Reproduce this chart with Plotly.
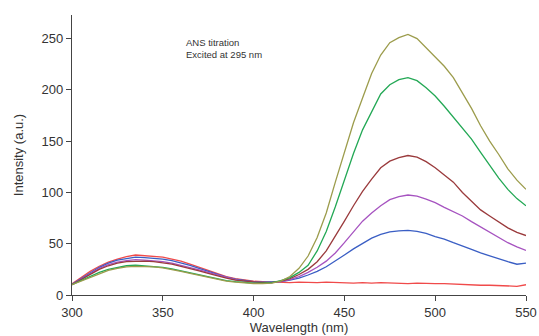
import plotly.graph_objects as go

wavelength = list(range(300, 551, 5))

red = [11, 17, 23, 28, 32, 35, 37.5, 39, 38.5, 38, 37, 35, 33, 30, 27, 23.5, 20.5, 18, 16, 14.5,
       13.5, 13, 12.5, 12, 12, 12.5, 12, 12, 12.5, 12, 12, 11.5, 12, 11.5, 12, 11.5, 11.5, 11, 11.5,
       11, 11, 11, 10.5, 10, 10, 9.5, 9.5, 9, 8.5, 8.5, 10]
blue = [10.5, 16, 22, 27, 31, 34, 35.5, 37, 36.5, 36, 35, 33.5, 31.5, 29, 26, 23, 20, 17.5, 15.5, 14,
        13, 12.5, 12.5, 13, 14.5, 16.5, 19.5, 23, 27.5, 33, 39, 45, 50.5, 55.5, 59, 61.5, 62.5, 63, 62,
        60, 57, 54.5, 51, 48, 44.5, 41, 38, 35, 32.5, 30, 31]
purple = [10, 15.5, 21, 26, 29.5, 32, 33.5, 34.5, 34, 33.5, 32.5, 31, 29, 27, 24.5, 22, 19.5, 17, 15, 13.5,
          12.5, 12, 12, 13, 15, 18, 22, 27, 33, 41, 51, 62, 72, 80, 87, 93, 96, 97.5, 96.5,
          93.5, 90, 85.5, 81.5, 77, 71.5, 66.5, 61, 56, 51, 47, 43.5]
brown = [10, 15, 20.5, 25, 28.5, 31, 32.5, 33, 33, 32.5, 31.5, 30, 28, 26, 23.5, 21, 18.5, 16.5, 14.5, 13.5,
         12.5, 12, 12, 13.5, 16, 20, 25, 32.5, 43, 57, 72, 87, 101, 113, 124, 130.5, 134, 136, 134.5,
         130, 124, 117, 110, 100, 91, 83, 77, 71, 65.5, 61, 58]
green = [10, 14, 18.5, 22, 25, 27, 28.5, 29, 28.5, 28, 27, 25.5, 23.5, 21.5, 19.5, 17.5, 15.5, 14, 13, 12,
         11.5, 11.5, 12, 14, 17, 22, 29, 43, 62, 86, 112, 138, 161, 179, 196, 205, 210, 212, 209,
         202, 194, 184, 173, 162, 152, 139, 126, 114, 103, 94, 87]
olive = [10, 13.5, 17.5, 21, 24, 26, 27.5, 28, 28, 27.5, 26.5, 25, 23, 21, 19, 17, 15, 13.5, 12.5, 11.5,
         11, 11, 11.5, 13.5, 18, 26, 38, 56, 80, 110, 140, 168, 192, 216, 234, 246, 251, 254, 250,
         241, 232, 223, 212, 197, 182, 165, 150, 137, 123, 112, 103]

series = [
    ("red", red, "#f04a4a"),
    ("blue", blue, "#3a5ec4"),
    ("purple", purple, "#a653c0"),
    ("brown", brown, "#9a3a3c"),
    ("green", green, "#23a855"),
    ("olive", olive, "#9c9c4c"),
]

fig = go.Figure()
for name, vals, col in series:
    fig.add_trace(go.Scatter(x=wavelength, y=vals, mode="lines", name=name,
                             line=dict(color=col, width=1.3), showlegend=False))

axis_common = dict(showgrid=False, zeroline=False, showline=True, linecolor="#444444", linewidth=1.3,
                   ticks="outside", ticklen=5, tickcolor="#444444", tickwidth=1.2, automargin=False,
                   tickfont=dict(family="Liberation Sans, Arial", size=13, color="#333333"))

fig.update_layout(
    width=539, height=336,
    margin=dict(l=72, r=13, t=15, b=41),
    paper_bgcolor="white", plot_bgcolor="white",
    xaxis=dict(range=[300, 550], tickvals=[300, 350, 400, 450, 500, 550],
               title=dict(text="Wavelength (nm)", standoff=0,
                          font=dict(family="Liberation Sans, Arial", size=13, color="#333333")),
               **axis_common),
    yaxis=dict(range=[0, 273], tickvals=[0, 50, 100, 150, 200, 250],
               title=dict(text="Intensity (a.u.)", standoff=14,
                          font=dict(family="Liberation Sans, Arial", size=13, color="#333333")),
               **axis_common),
    annotations=[
        dict(text="ANS titration<br>Excited at 295 nm", xref="paper", yref="paper",
             x=(184 - 72) / 454, y=1 - (35 - 15) / 280, xanchor="left", yanchor="top",
             showarrow=False, align="left",
             font=dict(family="Liberation Sans, Arial", size=9.5, color="#333333")),
    ],
)

fig.write_html("out.html")
